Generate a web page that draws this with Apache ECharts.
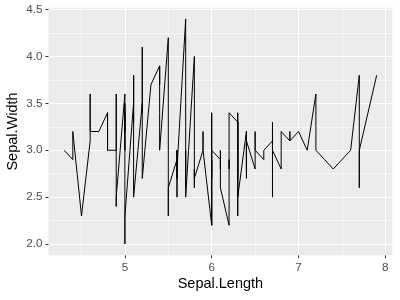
<!DOCTYPE html>
<html>
<head>
<meta charset="utf-8">
<script src="https://cdn.jsdelivr.net/npm/echarts@6/dist/echarts.min.js"></script>
<style>html,body{margin:0;padding:0;background:#fff}#c{width:400px;height:300px}</style>
</head>
<body>
<div id="c"></div>
<script>
// Sepal.Length values, in the order the line joins them (sorted by x)
const sepalLength = [
  4.3,
  4.4,4.4,4.4,
  4.5,
  4.6,4.6,4.6,4.6,
  4.7,4.7,
  4.8,4.8,4.8,4.8,4.8,
  4.9,4.9,4.9,4.9,4.9,4.9,
  5.0,5.0,5.0,5.0,5.0,5.0,5.0,5.0,5.0,5.0,
  5.1,5.1,5.1,5.1,5.1,5.1,5.1,5.1,5.1,
  5.2,5.2,5.2,5.2,
  5.3,
  5.4,5.4,5.4,5.4,5.4,5.4,
  5.5,5.5,5.5,5.5,5.5,5.5,5.5,
  5.6,5.6,5.6,5.6,5.6,5.6,
  5.7,5.7,5.7,5.7,5.7,5.7,5.7,5.7,
  5.8,5.8,5.8,5.8,5.8,5.8,5.8,
  5.9,5.9,5.9,
  6.0,6.0,6.0,6.0,6.0,6.0,
  6.1,6.1,6.1,6.1,6.1,6.1,
  6.2,6.2,6.2,6.2,
  6.3,6.3,6.3,6.3,6.3,6.3,6.3,6.3,6.3,
  6.4,6.4,6.4,6.4,6.4,6.4,6.4,
  6.5,6.5,6.5,6.5,6.5,
  6.6,6.6,
  6.7,6.7,6.7,6.7,6.7,6.7,6.7,6.7,
  6.8,6.8,6.8,
  6.9,6.9,6.9,6.9,
  7.0,
  7.1,
  7.2,7.2,7.2,
  7.3,
  7.4,
  7.6,
  7.7,7.7,7.7,7.7,
  7.9
];
const sepalWidth = [
  3.0,
  2.9,3.0,3.2,
  2.3,
  3.1,3.4,3.6,3.2,
  3.2,3.2,
  3.4,3.0,3.4,3.1,3.0,
  3.0,3.1,3.1,3.6,2.4,2.5,
  3.6,3.4,3.0,3.4,3.2,3.5,3.5,3.3,2.0,2.3,
  3.5,3.5,3.8,3.7,3.3,3.4,3.8,3.8,2.5,
  3.5,3.4,4.1,2.7,
  3.7,
  3.9,3.7,3.9,3.4,3.4,3.0,
  4.2,3.5,2.3,2.4,2.4,2.5,2.6,
  2.9,3.0,2.5,3.0,2.7,2.8,
  4.4,3.8,2.8,2.6,3.0,2.9,2.8,2.5,
  4.0,2.7,2.7,2.6,2.7,2.8,2.7,
  3.0,3.2,3.0,
  2.2,2.9,2.7,3.4,2.2,3.0,
  2.9,2.8,2.8,3.0,3.0,2.6,
  2.2,2.9,2.8,3.4,
  3.3,2.5,2.3,3.3,2.9,2.7,2.8,3.4,2.5,
  3.2,2.9,2.7,3.2,2.8,2.8,3.1,
  2.8,3.0,3.2,3.0,3.0,
  2.9,3.0,
  3.1,3.0,3.1,2.5,3.3,3.1,3.3,3.0,
  2.8,3.0,3.2,
  3.1,3.2,3.1,3.1,
  3.2,
  3.0,
  3.6,3.2,3.0,
  2.9,
  2.8,
  3.0,
  3.8,2.6,2.8,3.0,
  3.8
];
const xTicks = [5, 6, 7, 8];
const xMinorTicks = [4.5, 5.5, 6.5, 7.5];
const yTicks = [2.0, 2.5, 3.0, 3.5, 4.0, 4.5];
const yMinorTicks = [2.25, 2.75, 3.25, 3.75, 4.25];
const xTitle = 'Sepal.Length';
const yTitle = 'Sepal.Width';

const xMin = 4.12, xMax = 8.08, yMin = 1.88, yMax = 4.52;
const font = 'Liberation Sans, Arial, sans-serif';

const chart = echarts.init(document.getElementById('c'), null, {renderer: 'canvas'});
const pairs = sepalLength.map((x, i) => [x, sepalWidth[i]]);

function mainAxis(extra) {
  return Object.assign({
    type: 'value',
    axisLine: {show: false},
    splitLine: {show: true, lineStyle: {color: '#FFFFFF', width: 1.1}},
    nameLocation: 'middle',
    nameMoveOverlap: false,
    nameTextStyle: {color: '#000000', fontSize: 14.5, fontFamily: font}
  }, extra);
}
function minorAxis(extra) {
  return Object.assign({
    type: 'value',
    axisLine: {show: false},
    axisLabel: {show: false},
    splitLine: {show: true, lineStyle: {color: '#FFFFFF', width: 0.55}},
  }, extra);
}

chart.setOption({
  animation: false,
  backgroundColor: '#FFFFFF',
  grid: {left: 48.5, right: 7.7, top: 7.7, bottom: 44.7, show: true, backgroundColor: '#EBEBEB', borderWidth: 0,
    containLabel: false, outerBoundsMode: 'none'},
  xAxis: [
    mainAxis({
      min: xMin, max: xMax, position: 'bottom',
      name: xTitle, nameGap: 21,
      axisTick: {show: true, length: 3, customValues: xTicks, lineStyle: {color: '#333333', width: 1}},
      axisLabel: {color: '#4D4D4D', fontSize: 11.7, fontFamily: font, margin: 6, customValues: xTicks}
    }),
    minorAxis({
      min: xMin, max: xMax, position: 'top',
      axisTick: {show: false, customValues: xMinorTicks}
    })
  ],
  yAxis: [
    mainAxis({
      min: yMin, max: yMax, position: 'left',
      name: yTitle, nameGap: 28,
      axisTick: {show: true, length: 3, customValues: yTicks, lineStyle: {color: '#333333', width: 1}},
      axisLabel: {color: '#4D4D4D', fontSize: 11.7, fontFamily: font, margin: 6, customValues: yTicks,
        formatter: v => v.toFixed(1)}
    }),
    minorAxis({
      min: yMin, max: yMax, position: 'right',
      axisTick: {show: false, customValues: yMinorTicks}
    })
  ],
  series: [{
    type: 'line',
    data: pairs,
    xAxisIndex: 0,
    yAxisIndex: 0,
    showSymbol: false,
    symbol: 'none',
    lineStyle: {color: '#000000', width: 1},
    z: 10
  }]
});
</script>
</body>
</html>
